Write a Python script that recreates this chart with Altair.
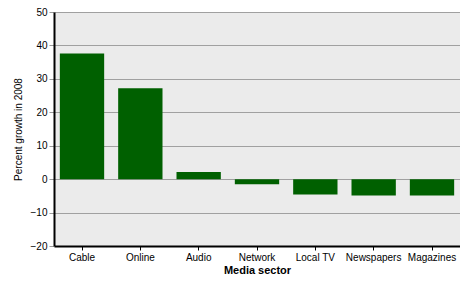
import altair as alt
import pandas as pd

sectors = ["Cable", "Online", "Audio", "Network", "Local TV", "Newspapers", "Magazines"]
growth = [37.6, 27.2, 2.1, -1.5, -4.6, -4.9, -4.9]

df = pd.DataFrame({"sector": sectors, "growth": growth})

font = "Liberation Sans"

chart = alt.Chart(df).mark_bar(color="#006000").encode(
    x=alt.X("sector:N", sort=sectors, title="Media sector",
            scale=alt.Scale(paddingInner=0.24, paddingOuter=0.1),
            axis=alt.Axis(labelAngle=0, domainColor="black", domainWidth=2,
                          tickColor="black", tickSize=4, labelPadding=2,
                          labelFontSize=10, titleFontSize=11, titleFontWeight="bold",
                          titlePadding=2, labelColor="black", titleColor="black",
                          labelFont=font, titleFont=font, grid=False)),
    y=alt.Y("growth:Q", title="Percent growth in 2008",
            scale=alt.Scale(domain=[-20, 50], nice=False, zero=False),
            axis=alt.Axis(values=[-20, -10, 0, 10, 20, 30, 40, 50],
                          domainColor="black", domainWidth=2,
                          tickColor="#999999", tickSize=5, labelPadding=2,
                          labelFontSize=10, titleFontSize=10, titleFontWeight="normal",
                          titlePadding=7, labelColor="black", titleColor="black",
                          labelFont=font, titleFont=font,
                          grid=True, gridColor="#a0a0a0", gridWidth=1)),
).properties(
    width=406, height=234,
    autosize=alt.AutoSizeParams(type="none"),
    padding={"left": 46, "top": 4, "right": 0, "bottom": 28},
    background="white",
).configure_view(
    fill="#ebebeb", stroke=None
)

chart.save("out.html", embed_options={"renderer": "svg", "actions": False})
